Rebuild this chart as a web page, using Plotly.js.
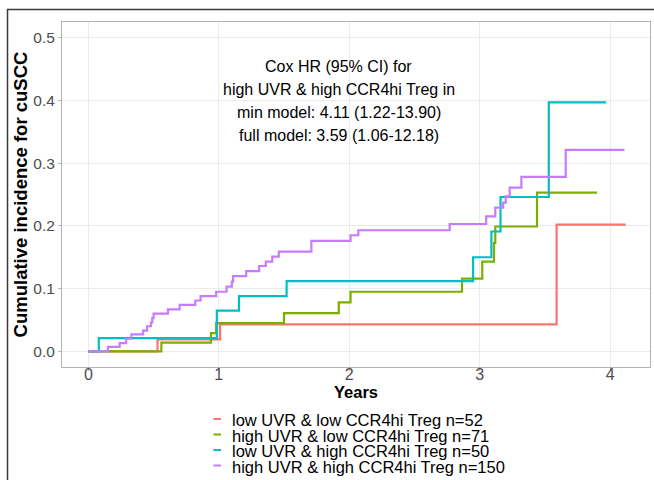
<!DOCTYPE html>
<html>
<head>
<meta charset="utf-8">
<script src="https://cdn.plot.ly/plotly-3.0.1.min.js"></script>
<style>
  html, body { margin: 0; padding: 0; background: #ffffff; }
  #chart { width: 654px; height: 480px; }
</style>
</head>
<body>
<div id="chart"></div>
<script>
// ---- data ----
const seriesNames = [
  "low UVR & low CCR4hi Treg n=52",
  "high UVR & low CCR4hi Treg n=71",
  "low UVR & high CCR4hi Treg n=50",
  "high UVR & high CCR4hi Treg n=150"
];
const seriesColors = ["#F8766D", "#7CAE00", "#00BFC4", "#C77CFF"];

const lowLowYears = [0, 0.53, 1.01, 3.59, 4.12];
const lowLowCuminc = [0, 0.019, 0.043, 0.202, 0.202];

const highLowYears = [0, 0.56, 0.94, 0.98, 1.50, 1.92, 2.01, 2.865, 3.02, 3.11, 3.12, 3.44, 3.90];
const highLowCuminc = [0, 0.014, 0.029, 0.045, 0.061, 0.078, 0.095, 0.116, 0.143, 0.173, 0.199, 0.253, 0.253];

const lowHighYears = [0, 0.08, 0.985, 1.155, 1.52, 2.95, 3.09, 3.16, 3.53, 3.97];
const lowHighCuminc = [0, 0.021, 0.065, 0.088, 0.112, 0.150, 0.191, 0.246, 0.397, 0.397];

const highHighYears = [0, 0.15, 0.24, 0.29, 0.33, 0.42, 0.45, 0.48, 0.49, 0.50, 0.61, 0.70, 0.82, 0.86, 0.98,
  1.06, 1.10, 1.11, 1.21, 1.31, 1.36, 1.41, 1.46, 1.71, 2.01, 2.07, 2.77, 3.05, 3.12, 3.18, 3.20, 3.23, 3.32, 3.66, 4.11];
const highHighCuminc = [0, 0.007, 0.013, 0.020, 0.027, 0.033, 0.040, 0.046, 0.053, 0.060, 0.067, 0.074, 0.081, 0.088, 0.095,
  0.103, 0.111, 0.120, 0.128, 0.136, 0.143, 0.151, 0.159, 0.176, 0.185, 0.193, 0.203, 0.215, 0.229, 0.237, 0.247, 0.261, 0.278, 0.321, 0.321];

const xTickVals = [0, 1, 2, 3, 4];
const yTickVals = [0, 0.1, 0.2, 0.3, 0.4, 0.5];
const yTickText = ["0.0", "0.1", "0.2", "0.3", "0.4", "0.5"];

const noteLines = [
  "Cox HR (95% CI) for",
  "high UVR & high CCR4hi Treg in",
  "min model: 4.11 (1.22-13.90)",
  "full model: 3.59 (1.06-12.18)"
];
const noteX = 1.92;

const xTitle = "Years";
const yTitle = "Cumulative incidence for cuSCC";

// ---- build chart ----
const W = 654, H = 480;
const M = {l: 62, r: 4, t: 22, b: 113};
const pw = W - M.l - M.r, ph = H - M.t - M.b;
const pxX = px => (px - M.l) / pw;
const pxY = py => (H - M.b - py) / ph;

const xs = [lowLowYears, highLowYears, lowHighYears, highHighYears];
const ys = [lowLowCuminc, highLowCuminc, lowHighCuminc, highHighCuminc];

const traces = seriesNames.map((name, i) => ({
  type: "scatter",
  mode: "lines",
  x: xs[i],
  y: ys[i],
  name: name,
  line: {shape: "hv", color: seriesColors[i], width: 2.2},
  showlegend: false,
  hoverinfo: "skip"
}));

const FONT = "Liberation Sans, Arial, sans-serif";
const annotations = [];
const noteY0 = 0.4536, noteDy = 0.0365;
noteLines.forEach((t, i) => {
  annotations.push({
    x: noteX, y: noteY0 - i * noteDy, xref: "x", yref: "y",
    text: t, showarrow: false, xanchor: "center", yanchor: "middle",
    font: {family: FONT, size: 16, color: "#000000"}
  });
});

// legend drawn below the plot
const legRowY = [420, 435.5, 451, 466.5];
const shapes = [];
seriesNames.forEach((name, i) => {
  annotations.push({
    x: pxX(231), y: pxY(legRowY[i]), xref: "paper", yref: "paper",
    text: name, showarrow: false, xanchor: "left", yanchor: "middle",
    borderpad: 0,
    font: {family: FONT, size: 16.5, color: "#000000"}
  });
  shapes.push({
    type: "line", xref: "paper", yref: "paper",
    x0: pxX(213.5), x1: pxX(221), y0: pxY(legRowY[i] - 1), y1: pxY(legRowY[i] - 1),
    line: {color: seriesColors[i], width: 2}
  });
});

// outer figure frame
shapes.push({
  type: "rect", xref: "paper", yref: "paper", layer: "above",
  x0: pxX(7.5), x1: pxX(700), y0: pxY(9.5), y1: pxY(540),
  line: {color: "#3a3a3a", width: 1.5}, fillcolor: "rgba(0,0,0,0)"
});

const layout = {
  width: W, height: H,
  margin: M,
  paper_bgcolor: "#ffffff",
  plot_bgcolor: "#ffffff",
  font: {family: FONT, color: "#000000"},
  showlegend: false,
  xaxis: {
    range: [-0.202, 4.306],
    tickvals: xTickVals,
    ticktext: xTickVals.map(String),
    ticks: "outside", ticklen: 3, tickcolor: "#b3b3b3", tickwidth: 1,
    ticklabelstandoff: -10,
    tickfont: {family: FONT, size: 16, color: "#4d4d4d"},
    showgrid: true, gridcolor: "#ebebeb", gridwidth: 1,
    zeroline: false,
    showline: true, linecolor: "#b3b3b3", linewidth: 1, mirror: true,
    title: {text: "<b>" + xTitle + "</b>", font: {family: FONT, size: 16.5, color: "#000000"}, standoff: 4}
  },
  yaxis: {
    range: [-0.025, 0.525],
    tickvals: yTickVals,
    ticktext: yTickText,
    ticks: "outside", ticklen: 3, tickcolor: "#b3b3b3", tickwidth: 1,
    tickfont: {family: FONT, size: 15.5, color: "#4d4d4d"},
    showgrid: true, gridcolor: "#ebebeb", gridwidth: 1,
    zeroline: false,
    showline: true, linecolor: "#b3b3b3", linewidth: 1, mirror: true,
    title: {text: "<b>" + yTitle + "</b>", font: {family: FONT, size: 18.5, color: "#000000"}, standoff: 0}
  },
  annotations: annotations,
  shapes: shapes
};

Plotly.newPlot("chart", traces, layout, {staticPlot: true, displayModeBar: false});
</script>
</body>
</html>
